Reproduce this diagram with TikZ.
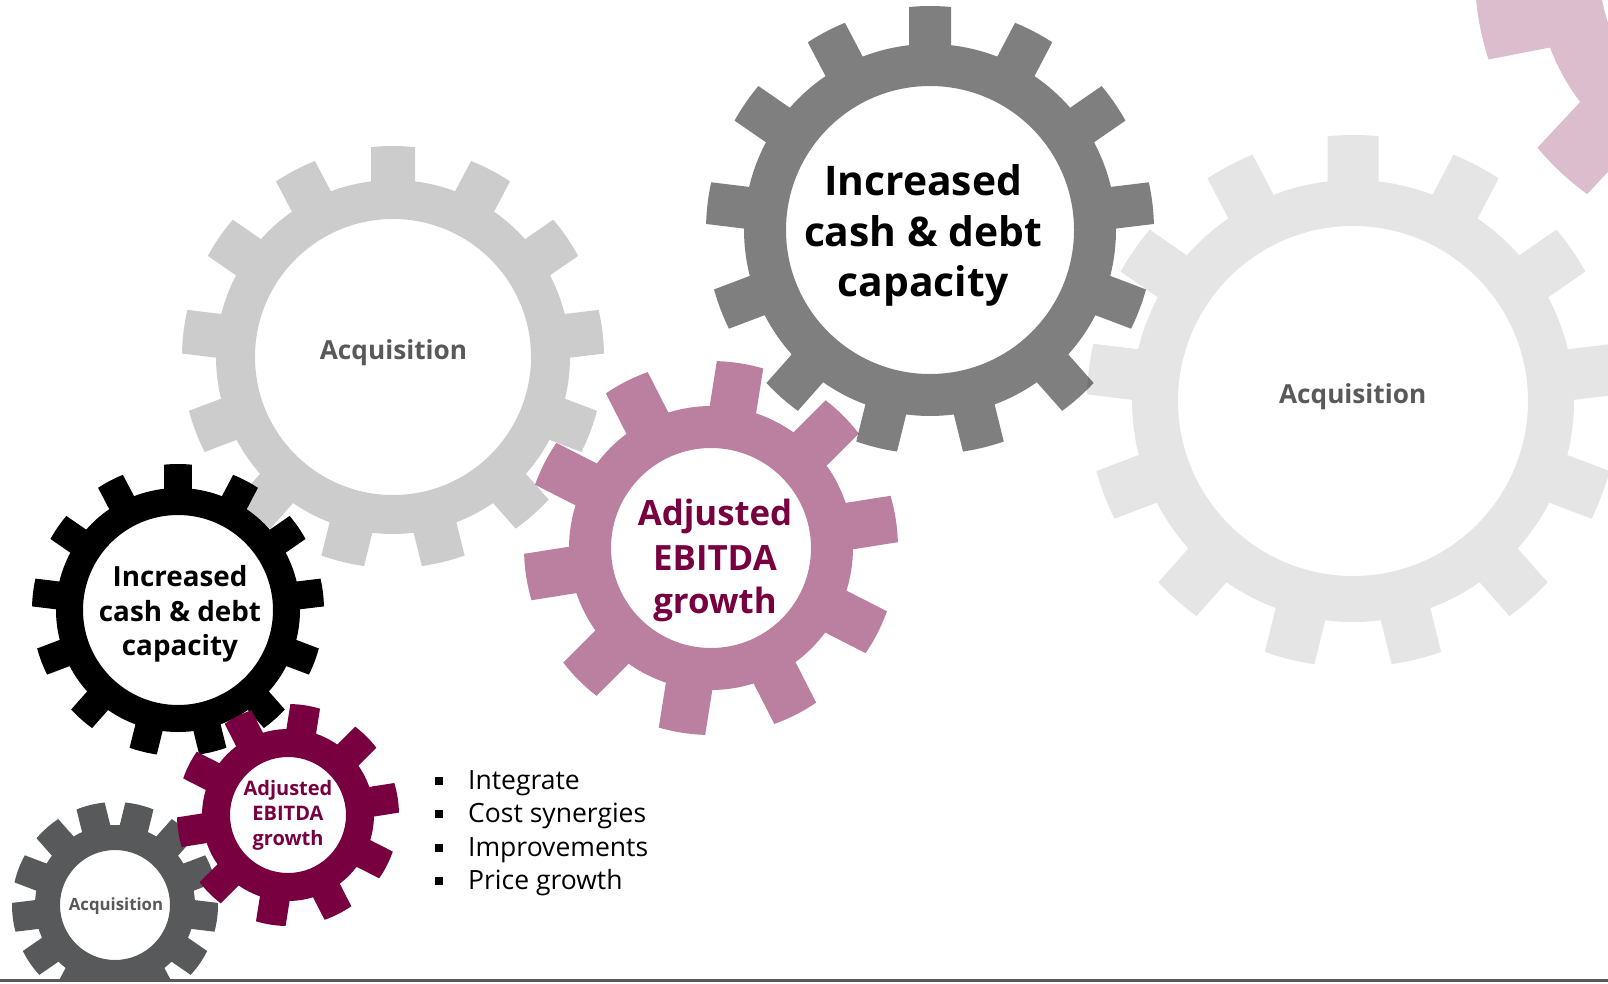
\documentclass[tikz,border=0pt]{standalone}
\usepackage{fontspec}
\setmainfont{Open Sans}
\definecolor{gmaroon}{HTML}{780040}
\definecolor{glabel}{HTML}{595959}
\definecolor{gsmall}{HTML}{58595B}
\newcommand{\drawgear}[9]{%
  \pgfmathsetmacro\gAR{asin(#6/(2*#3))}%
  \pgfmathsetmacro\gAT{asin(#6/(2*#4))}%
  \pgfmathsetmacro\gStep{360/#7}%
  \pgfmathtruncatemacro\gLast{#7-1}%
  \begin{scope}[shift={(#1,#2)}]
  \path[#9,even odd rule] ({#8-\gAR}:#3)
    \foreach \k in {0,...,\gLast}{
      -- ({#8+\k*\gStep-\gAT}:#4) arc[start angle={#8+\k*\gStep-\gAT}, end angle={#8+\k*\gStep+\gAT}, radius=#4]
      -- ({#8+\k*\gStep+\gAR}:#3) arc[start angle={#8+\k*\gStep+\gAR}, end angle={#8+(\k+1)*\gStep-\gAR}, radius=#3]
    } -- cycle (0,0) circle[radius=#5];
  \end{scope}}
\tikzset{
  lbl/.style={anchor=base, inner sep=0pt, font=\bfseries},
  acqlbl/.style={lbl, text=glabel, font=\bfseries\fontsize{26.2}{30}\selectfont},
  bsq/.style={fill=black, draw=none, minimum size=8pt, inner sep=0pt},
  btxt/.style={anchor=base west, inner sep=0pt, font=\fontsize{26.5}{32}\selectfont}
}
\begin{document}
\begin{tikzpicture}[x=1pt,y=1pt]
\useasboundingbox (0,0) rectangle (1608,-983);
\fill[white] (0,0) rectangle (1608,-983);
\begin{scope}
\clip (0,0) rectangle (1608,-979);
% large light gear (right)
\drawgear{1353}{-401}{221}{266}{175}{51}{13}{90}{fill=black,fill opacity=0.1}
% light gray gear
\drawgear{393}{-357}{177}{211}{138}{44}{13}{90}{fill=black,fill opacity=0.2}
% dark gray gear
\drawgear{930}{-230}{186}{224}{144}{42}{13}{90}{fill=black,fill opacity=0.5}
% pink gear
\drawgear{711}{-548}{142}{187}{100}{47}{10}{81}{fill=gmaroon,fill opacity=0.5}
% top-right pale pink gear
\drawgear{1745}{25}{208}{270}{145}{68}{10}{83}{fill=gmaroon,fill opacity=0.26}
% black gear
\drawgear{178}{-610}{122}{146}{95}{28}{13}{90}{fill=black}
% small gray gear
\drawgear{115}{-905}{80}{103}{55}{29}{13}{76.15}{fill=gsmall}
% small maroon gear
\drawgear{288}{-815}{86}{111}{58}{30}{10}{81}{fill=gmaroon}
\end{scope}
\coordinate (lineL) at (0,-980.5);
\coordinate (lineR) at (1608,-980.5);
\draw[glabel, line width=3pt] (lineL) -- (lineR);

% labels
\node[acqlbl] (acq1) at (393.5,-359) {Acquisition};
\node[acqlbl] (acq2) at (1352.7,-403) {Acquisition};

\begin{scope}[every node/.style={lbl, text=black, font=\bfseries\fontsize{40.8}{48}\selectfont}]
\node (dg1) at (923,-195) {Increased};
\node (dg2) at (923,-246.7) {cash \& debt};
\node (dg3) at (923,-296.7) {capacity};
\end{scope}

\begin{scope}[every node/.style={lbl, text=gmaroon, font=\bfseries\fontsize{34.8}{42}\selectfont}]
\node (pk1) at (715,-525) {Adjusted};
\node (pk2) at (715,-570) {EBITDA};
\node (pk3) at (715,-613.3) {growth};
\end{scope}

\begin{scope}[every node/.style={lbl, text=black, font=\bfseries\fontsize{27.8}{33}\selectfont}]
\node (bk1) at (180,-586.7) {Increased};
\node (bk2) at (180,-621.7) {cash \& debt};
\node (bk3) at (180,-655) {capacity};
\end{scope}

\begin{scope}[every node/.style={lbl, text=gmaroon, font=\bfseries\fontsize{20}{24}\selectfont}]
\node (mr1) at (288,-795) {Adjusted};
\node (mr2) at (288,-820) {EBITDA};
\node (mr3) at (288,-845) {growth};
\end{scope}

\node[lbl, text=glabel, font=\bfseries\fontsize{16.8}{20}\selectfont] (acq3) at (116,-910) {Acquisition};

% bullets
\node[bsq] (b1) at (439,-781) {};
\node[bsq] (b2) at (439,-814.4) {};
\node[bsq] (b3) at (439,-848.3) {};
\node[bsq] (b4) at (439,-881) {};
\node[btxt] (t1) at (468,-789.3) {Integrate};
\node[btxt] (t2) at (468,-822.7) {Cost synergies};
\node[btxt] (t3) at (468,-856.7) {Improvements};
\node[btxt] (t4) at (468,-889.3) {Price growth};
\end{tikzpicture}
\end{document}
